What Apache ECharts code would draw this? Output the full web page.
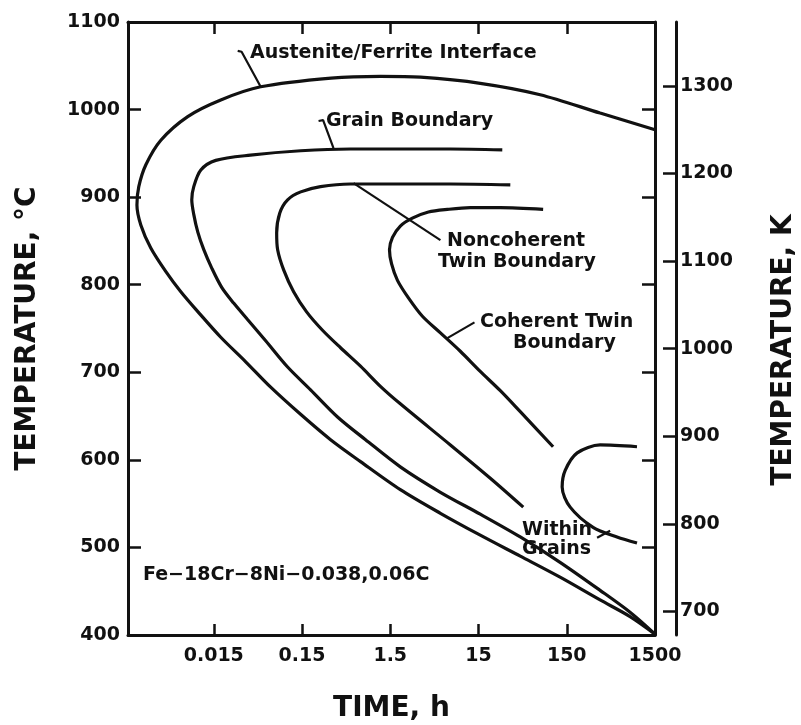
<!DOCTYPE html>
<html><head><meta charset="utf-8">
<script src="https://cdn.jsdelivr.net/npm/echarts@6/dist/echarts.min.js"></script>
<style>html,body{margin:0;padding:0;background:#fff}#c{width:801px;height:725px}</style>
</head><body><div id="c"></div>
<script>
// ---- data ----
const timeTicks = [0.015, 0.15, 1.5, 15, 150, 1500];
const tempTicksC = [400, 500, 600, 700, 800, 900, 1000, 1100];
const tempTicksK = [700, 800, 900, 1000, 1100, 1200, 1300];

// Austenite/Ferrite interface (time h, temperature °C)
const afTime = [1500, 358, 75, 15.7, 3.3, 1.16, 0.32, 0.051, 0.018, 0.0076, 0.00377, 0.00255, 0.00212, 0.00202, 0.00224, 0.0029, 0.0043, 0.00635, 0.00995, 0.018, 0.0345, 0.0662, 0.1445, 0.316, 0.69, 1.95, 5.55, 15.7, 44.6, 126, 358, 782, 1500];
const afTemp = [977, 996, 1017, 1030, 1037, 1038, 1036, 1026, 1011, 992, 965, 937, 912, 891, 868, 842, 815, 792, 769, 740, 712, 683, 652, 623, 598, 566, 539, 514, 490, 466, 440, 421, 401];
// Grain boundary
const gbTime = [27.9, 7.2, 1.95, 0.53, 0.145, 0.039, 0.0158, 0.0107, 0.0089, 0.00845, 0.00891, 0.00989, 0.01156, 0.01423, 0.01845, 0.0252, 0.0364, 0.0581, 0.103, 0.1875, 0.379, 0.787, 1.95, 5.55, 15.7, 44.6, 126, 358, 782, 1500];
const gbTemp = [954, 955, 955, 955, 953, 948, 942, 931, 912, 897, 880, 860, 840, 819, 797, 779, 760, 736, 706, 680, 649, 623, 592, 563, 538, 512, 483, 451, 426, 401];
// Noncoherent twin boundary
const ncTime = [34.4, 7.2, 1.95, 0.53, 0.243, 0.145, 0.103, 0.084, 0.0774, 0.0794, 0.0929, 0.1205, 0.169, 0.256, 0.41, 0.69, 1.16, 1.95, 7.2, 20.4, 48.2];
const ncTemp = [914, 915, 915, 915, 912, 906, 897, 882, 859, 840, 817, 792, 769, 748, 728, 707, 684, 664, 617, 579, 546];
// Coherent twin boundary
const ctTime = [81, 26.5, 12.1, 6.65, 4.06, 2.67, 1.95, 1.59, 1.47, 1.55, 1.81, 2.41, 3.47, 5.55, 9.33, 15.7, 26.5, 44.6, 105];
const ctTemp = [886, 888, 888, 886, 883, 876, 867, 854, 840, 824, 805, 785, 764, 745, 724, 701, 679, 655, 615];
// Within grains
const wgTime = [938, 358, 197, 144, 133, 164, 298, 557, 938];
const wgTemp = [615, 617, 608, 588, 569, 546, 523, 512, 505];

// label leader lines
const afLeadTime = [0.028, 0.031, 0.051];
const afLeadTemp = [1067, 1066, 1026];
const gbLeadTime = [0.231, 0.26, 0.341];
const gbLeadTemp = [987, 988, 956];
const ncLeadTime = [0.575, 5.55];
const ncLeadTemp = [916, 851];
const ctLeadTime = [6.65, 13.5];
const ctLeadTemp = [739, 757];
const wgLeadTime = [331, 465];
const wgLeadTemp = [511, 519];

// ---- chart ----
const FONT = 'DejaVu Sans';
const INK = '#111';
const zip = (a, b) => a.map((v, i) => [v, b[i]]);
const curve = (name, t, T) => ({
  name, type: 'line', data: zip(t, T), showSymbol: false, smooth: 0.3,
  lineStyle: { color: INK, width: 3.2 }, silent: true, animation: false
});
const leader = (t, T) => ({
  type: 'line', data: zip(t, T), showSymbol: false, smooth: false,
  lineStyle: { color: INK, width: 2.2 }, silent: true, animation: false
});
const txt = (x, y, s, align) => ({
  type: 'text', left: x, top: y, z: 50,
  style: { text: s, font: 'bold 19px "' + FONT + '"', fill: INK,
           textAlign: align || 'left', textVerticalAlign: 'middle' }
});

const lbl = { color: INK, fontFamily: FONT, fontWeight: 'bold', fontSize: 19 };
const ttl = { color: INK, fontFamily: FONT, fontWeight: 'bold', fontSize: 28 };
const fmtT = v => {
  for (const k of timeTicks) if (Math.abs(v - k) / k < 1e-6) return String(k);
  return '';
};

const chart = echarts.init(document.getElementById('c'), null, { renderer: 'canvas' });
chart.setOption({
  animation: false,
  backgroundColor: '#fff',
  grid: { left: 128, right: 146, top: 22, bottom: 90, containLabel: false, outerBoundsMode: 'none' },
  xAxis: [
    {
      type: 'log', logBase: 10, min: 0.0016, max: 1500, position: 'bottom',
      name: 'TIME, h', nameLocation: 'middle', nameGap: 60, nameTextStyle: ttl,
      axisLine: { onZero: false, lineStyle: { color: INK, width: 3 } },
      axisTick: { inside: true, length: 11, lineStyle: { color: INK, width: 2.5 }, customValues: timeTicks },
      axisLabel: Object.assign({ margin: 12, customValues: timeTicks, formatter: fmtT }, lbl),
      splitLine: { show: false }, minorTick: { show: false }
    },
    {
      type: 'log', logBase: 10, min: 0.0016, max: 1500, position: 'top',
      axisLine: { onZero: false, lineStyle: { color: INK, width: 3 } },
      axisTick: { inside: true, length: 12, lineStyle: { color: INK, width: 2.5 }, customValues: timeTicks },
      axisLabel: { show: false }, splitLine: { show: false }
    }
  ],
  yAxis: [
    {
      type: 'value', min: 400, max: 1100, interval: 100, position: 'left',
      name: 'TEMPERATURE, °C', nameLocation: 'middle', nameGap: 86, nameRotate: 90, nameTextStyle: ttl,
      axisLine: { onZero: false, lineStyle: { color: INK, width: 3 } },
      axisTick: { inside: true, length: 13, lineStyle: { color: INK, width: 2.5 } },
      axisLabel: Object.assign({ margin: 8, formatter: v => String(v) }, lbl),
      splitLine: { show: false }
    },
    {
      type: 'value', min: 400, max: 1100, interval: 100, position: 'right',
      axisLine: { onZero: false, lineStyle: { color: INK, width: 3 } },
      axisTick: { inside: true, length: 13, lineStyle: { color: INK, width: 2.5 } },
      axisLabel: { show: false }, splitLine: { show: false }
    },
    {
      type: 'value', min: 673, max: 1373, position: 'right', offset: 21,
      axisLine: { onZero: false, lineStyle: { color: INK, width: 3 } },
      axisTick: { inside: true, length: 13, lineStyle: { color: INK, width: 2.5 }, customValues: tempTicksK },
      axisLabel: Object.assign({ margin: 4, customValues: tempTicksK, formatter: v => String(v) }, lbl),
      splitLine: { show: false }
    }
  ],
  series: [
    curve('Austenite/Ferrite Interface', afTime, afTemp),
    curve('Grain Boundary', gbTime, gbTemp),
    curve('Noncoherent Twin Boundary', ncTime, ncTemp),
    curve('Coherent Twin Boundary', ctTime, ctTemp),
    curve('Within Grains', wgTime, wgTemp),
    leader(afLeadTime, afLeadTemp),
    leader(gbLeadTime, gbLeadTemp),
    leader(ncLeadTime, ncLeadTemp),
    leader(ctLeadTime, ctLeadTemp),
    leader(wgLeadTime, wgLeadTemp)
  ],
  graphic: [
    txt(250, 44, 'Austenite/Ferrite Interface'),
    txt(326, 112, 'Grain Boundary'),
    txt(447, 232, 'Noncoherent'),
    txt(438, 253, 'Twin Boundary'),
    txt(480, 313, 'Coherent Twin'),
    txt(513, 334, 'Boundary'),
    txt(522, 521, 'Within'),
    txt(522, 540, 'Grains'),
    txt(143, 566, 'Fe−18Cr−8Ni−0.038,0.06C'),
    {
      type: 'text', x: 784, y: 350, rotation: Math.PI / 2, z: 50,
      style: { text: 'TEMPERATURE, K', font: 'bold 28px "' + FONT + '"', fill: INK,
               textAlign: 'center', textVerticalAlign: 'middle' }
    }
  ]
});
</script></body></html>
